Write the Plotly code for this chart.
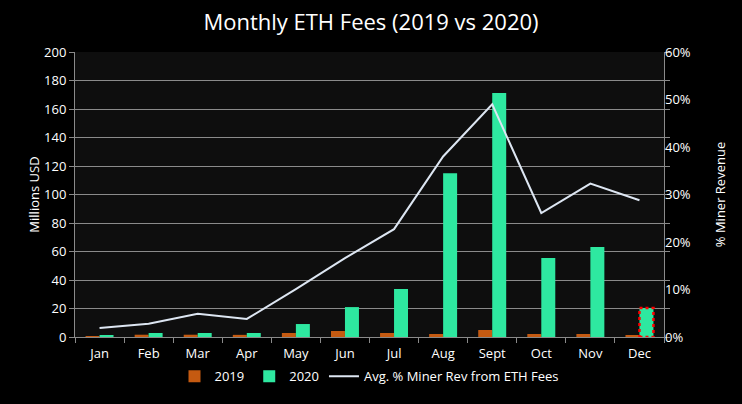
import plotly.graph_objects as go

months = ["Jan", "Feb", "Mar", "Apr", "May", "Jun", "Jul", "Aug", "Sept", "Oct", "Nov", "Dec"]
fees_2019 = [0.6, 1.6, 1.6, 1.5, 2.8, 4.2, 2.8, 2.1, 4.9, 2.1, 2.1, 1.4]
fees_2020 = [0.8, 2.8, 2.8, 2.8, 9.1, 21.0, 33.7, 115.0, 171.2, 55.4, 63.2, 20.4]
miner_rev_pct = [0.019, 0.028, 0.049, 0.038, 0.101, 0.166, 0.227, 0.38, 0.49, 0.261, 0.323, 0.288]

FONT = "Open Sans"
C2019 = "#c55a11"
C2020 = "#2ee8a0"
LINE = "#dde6f2"
GRID = "#8a8a8a"

fig = go.Figure()
fig.add_trace(go.Bar(x=months, y=fees_2019, name="2019", marker=dict(color=C2019, line=dict(width=0))))
fig.add_trace(go.Bar(x=months, y=fees_2020, name="2020", marker=dict(color=C2020, line=dict(width=0))))
fig.add_trace(go.Scatter(x=months, y=miner_rev_pct, name="Avg. % Miner Rev from ETH Fees",
                         mode="lines", line=dict(color=LINE, width=2), yaxis="y2"))

bargap = 0.43
half = (1 - bargap) / 2
last = len(months) - 1
fig.add_shape(type="rect", xref="x", yref="y",
              x0=last, x1=last + half, y0=0, y1=fees_2020[last],
              line=dict(color="#ff0000", width=2.5, dash="dot"), fillcolor="rgba(0,0,0,0)")

fig.update_layout(
    width=742, height=404,
    paper_bgcolor="#000000", plot_bgcolor="#0e0e0e",
    margin=dict(l=75, r=78, t=52, b=67),
    font=dict(family=FONT, color="#ffffff", size=13),
    title=dict(text="Monthly ETH Fees (2019 vs 2020)", x=0.5, xanchor="center", y=0.946, yanchor="middle",
               font=dict(family=FONT, size=22, color="#ffffff")),
    barmode="group", bargap=bargap, bargroupgap=0,
    showlegend=True,
    legend=dict(orientation="h", x=0.5, xanchor="center",
                y=-0.138, yanchor="middle",
                font=dict(size=13, color="#ffffff"), bgcolor="rgba(0,0,0,0)", traceorder="normal"),
    xaxis=dict(tickson="boundaries", ticks="outside", ticklen=5, tickcolor=GRID,
               showline=True, linecolor=GRID, linewidth=1, showgrid=False,
               ticklabelstandoff=4,
               tickfont=dict(size=13, color="#ffffff")),
    yaxis=dict(range=[0, 200], dtick=20, ticks="outside", ticklen=5, tickcolor=GRID,
               showline=True, linecolor=GRID, mirror="ticks", showgrid=True, gridcolor=GRID, gridwidth=1,
               zeroline=False, title=dict(text="Millions USD", font=dict(size=13), standoff=1),
               tickfont=dict(size=13, color="#ffffff")),
    yaxis2=dict(range=[0, 0.6], dtick=0.1, tickformat=".0%", overlaying="y", side="right",
                showgrid=False, zeroline=False, ticks="", showline=False,
                title=dict(text="% Miner Revenue", font=dict(size=13), standoff=26),
                tickfont=dict(size=13, color="#ffffff")),
)

fig.write_html("out.html", config={"displayModeBar": False},
               post_script="document.body.style.margin='0px';")
